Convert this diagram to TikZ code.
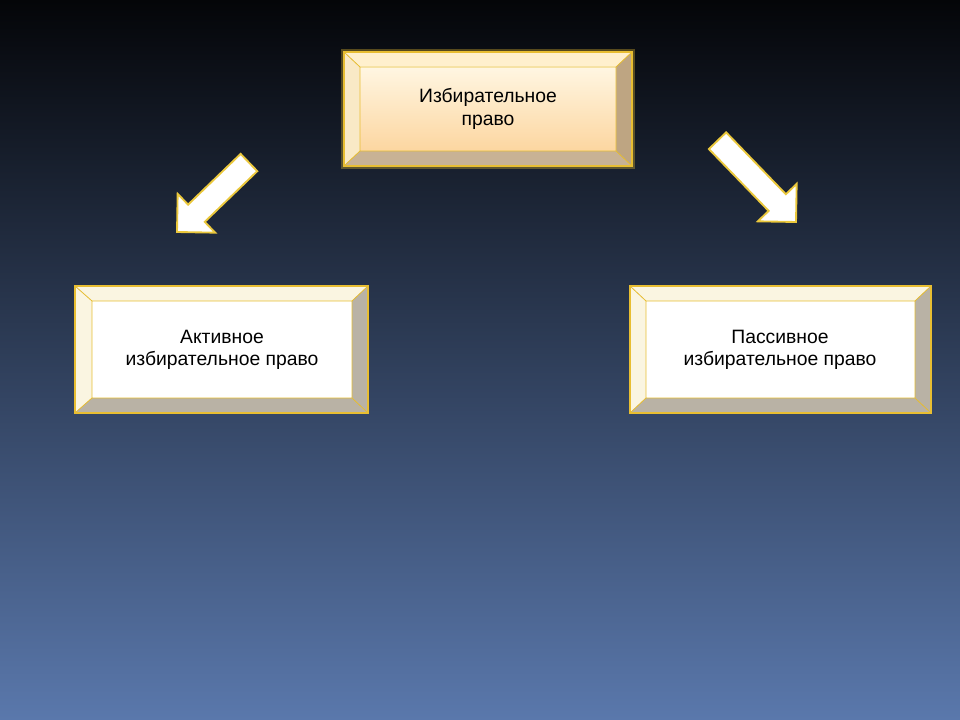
\documentclass[tikz,border=0pt]{standalone}
\usepackage{fontspec}
\setmainfont{Liberation Sans}
\begin{document}
\begin{tikzpicture}[x=0.75pt,y=-0.75pt,
  lbl/.style={align=center,font=\fontsize{14.5pt}{17pt}\selectfont,text=black},
  edge/.style={draw=#1,line width=1pt,line join=round},
  arr/.style={fill=white,draw={rgb,255:red,235;green,200;blue,60},line width=1.4pt,line join=miter}]
\definecolor{bgtop}{RGB}{4,5,8}
\definecolor{bgbot}{RGB}{90,120,172}
\definecolor{goldline}{RGB}{232,190,50}
\definecolor{facetop}{RGB}{255,246,226}
\definecolor{facebot}{RGB}{252,214,160}
\definecolor{bevl}{RGB}{255,240,205}
\definecolor{bevd}{RGB}{190,165,130}
\definecolor{wbevl}{RGB}{250,245,225}
\definecolor{wbevd}{RGB}{185,178,165}
\shade[top color=bgtop,bottom color=bgbot] (0,0) rectangle (960,720);
\useasboundingbox (0,0) rectangle (960,720);
% top box glow
\draw[goldline,line width=5pt,opacity=0.35] (344,52) rectangle (632,166);
% top box
\fill[bevl] (344,52) -- (632,52) -- (616,67) -- (360,67) -- cycle;
\fill[bevl!90!bevd] (344,52) -- (360,67) -- (360,151) -- (344,166) -- cycle;
\fill[bevd] (632,52) -- (632,166) -- (616,151) -- (616,67) -- cycle;
\fill[bevd!85!white] (344,166) -- (632,166) -- (616,151) -- (360,151) -- cycle;
\shade[top color=facetop,bottom color=facebot] (360,67) rectangle (616,151);
\draw[goldline,line width=1.3pt] (344,52) rectangle (632,166);
\draw[goldline,line width=0.6pt] (360,67) rectangle (616,151)
  (344,52)--(360,67) (632,52)--(616,67) (344,166)--(360,151) (632,166)--(616,151);
\node[lbl] (top) at (488,109) {Избирательное\\право};
% left box
\fill[wbevl] (75,286) -- (368,286) -- (352,301) -- (92,301) -- cycle;
\fill[wbevl] (75,286) -- (92,301) -- (92,398) -- (75,413) -- cycle;
\fill[wbevd] (368,286) -- (368,413) -- (352,398) -- (352,301) -- cycle;
\fill[wbevd] (75,413) -- (368,413) -- (352,398) -- (92,398) -- cycle;
\fill[white] (92,301) rectangle (352,398);
\draw[goldline,line width=1.3pt] (75,286) rectangle (368,413);
\draw[goldline,line width=0.6pt] (92,301) rectangle (352,398)
  (75,286)--(92,301) (368,286)--(352,301) (75,413)--(92,398) (368,413)--(352,398);
\node[lbl] (act) at (222,350) {Активное\\избирательное право};
% right box
\fill[wbevl] (630,286) -- (931,286) -- (915,301) -- (646,301) -- cycle;
\fill[wbevl] (630,286) -- (646,301) -- (646,398) -- (630,413) -- cycle;
\fill[wbevd] (931,286) -- (931,413) -- (915,398) -- (915,301) -- cycle;
\fill[wbevd] (630,413) -- (931,413) -- (915,398) -- (646,398) -- cycle;
\fill[white] (646,301) rectangle (915,398);
\draw[goldline,line width=1.3pt] (630,286) rectangle (931,413);
\draw[goldline,line width=0.6pt] (646,301) rectangle (915,398)
  (630,286)--(646,301) (931,286)--(915,301) (630,413)--(646,398) (931,413)--(915,398);
\node[lbl] (pas) at (780,350) {Пассивное\\избирательное право};
% arrows
\begin{scope}[shift={(177,232)},rotate=224]
\draw[arr] (0,0) -- (-27,-27) -- (-27,-12) -- (-100,-12) -- (-100,12) -- (-27,12) -- (-27,27) -- cycle;
\end{scope}
\begin{scope}[shift={(796,222)},rotate=-46]
\draw[arr] (0,0) -- (-27,-27) -- (-27,-12) -- (-113,-12) -- (-113,12) -- (-27,12) -- (-27,27) -- cycle;
\end{scope}
\end{tikzpicture}
\end{document}
